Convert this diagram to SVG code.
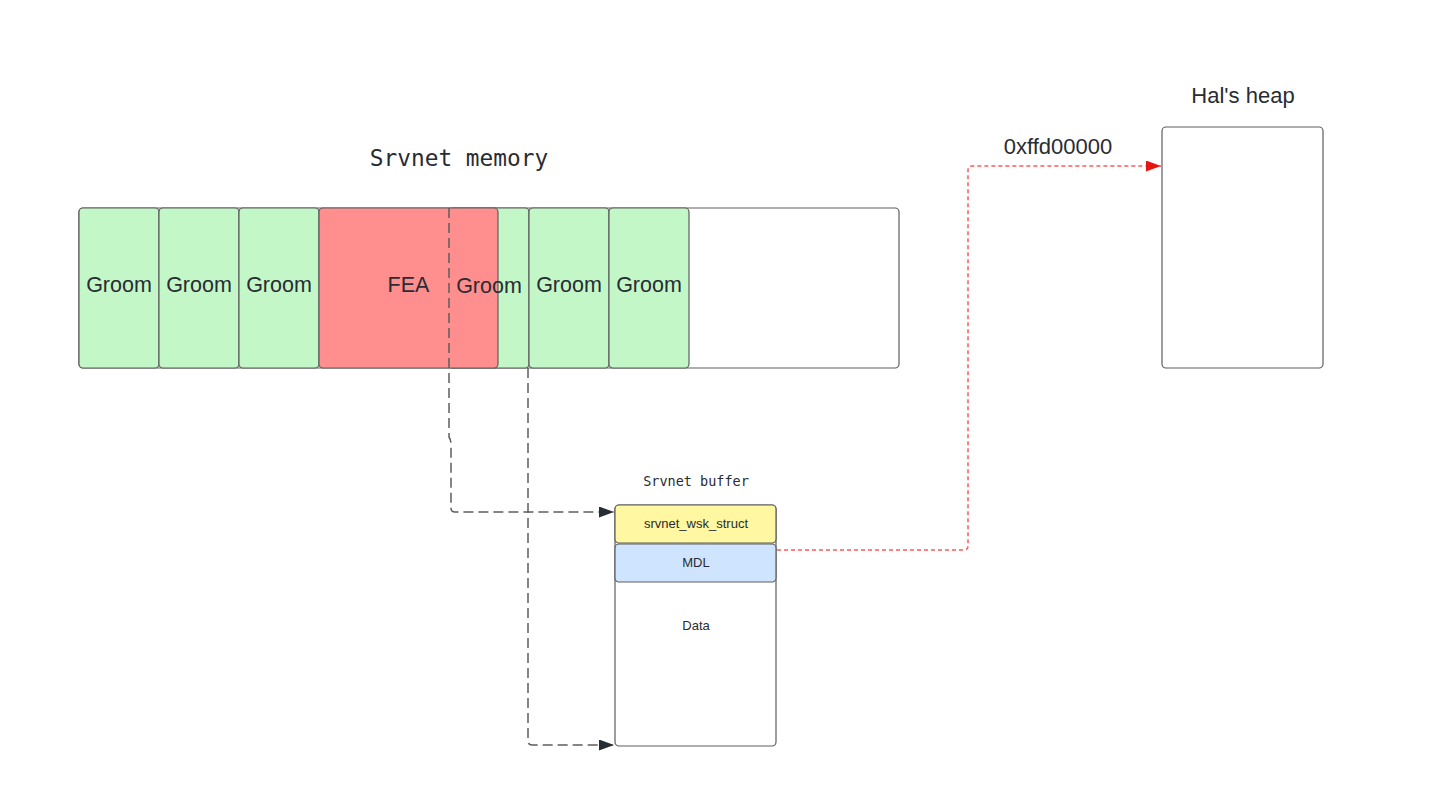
<svg xmlns="http://www.w3.org/2000/svg" width="1440" height="806" viewBox="0 0 1440 806">
<defs>
<style>
.box{stroke:#5e5e5e;stroke-width:1.2}
.g{fill:#c3f7c8}
.r{fill:#ff8f8f}
.w{fill:#ffffff}
.y{fill:#fff7a1}
.b{fill:#cfe4ff}
.lbl{font-family:"Liberation Sans",Arial,sans-serif;fill:#282c33;text-anchor:middle}
.big{font-size:21.5px}
.sm{font-size:13px}
.mono{font-family:"DejaVu Sans Mono","Liberation Mono",monospace;fill:#282c33;text-anchor:middle}
.gd{fill:none;stroke:#5e5e5e;stroke-width:1.5;stroke-dasharray:10 5}
.rd{fill:none;stroke:#ff5a5a;stroke-width:1.5;stroke-dasharray:4 3}
</style>
<marker id="ag" viewBox="0 0 15 11" refX="15" refY="5.5" markerWidth="15" markerHeight="11" markerUnits="userSpaceOnUse" orient="auto">
<path d="M0,0 L15,5.5 L0,11 Z" fill="#282c33"/>
</marker>
<marker id="ar" viewBox="0 0 15 11" refX="15" refY="5.5" markerWidth="15" markerHeight="11" markerUnits="userSpaceOnUse" orient="auto">
<path d="M0,0 L15,5.5 L0,11 Z" fill="#e81313"/>
</marker>
</defs>
<rect width="1440" height="806" fill="#ffffff"/>

<g id="srvnet-memory">
<text class="mono" x="459" y="166" font-size="22.8">Srvnet memory</text>
<rect class="box w" x="79" y="208" width="820" height="160" rx="4"/>
</g>
<g id="groom1"><rect class="box g" x="79" y="208" width="80" height="160" rx="4"/><text class="lbl big" x="119" y="292">Groom</text></g>
<g id="groom2"><rect class="box g" x="159" y="208" width="80" height="160" rx="4"/><text class="lbl big" x="199" y="292">Groom</text></g>
<g id="groom3"><rect class="box g" x="239" y="208" width="80" height="160" rx="4"/><text class="lbl big" x="279" y="292">Groom</text></g>
<g id="groom4"><rect class="box g" x="449" y="208" width="80" height="160" rx="4"/></g>
<g id="fea"><rect class="box r" x="319" y="208" width="179" height="160" rx="4"/><text class="lbl big" x="408.5" y="292">FEA</text></g>
<g id="groom4-label"><text class="lbl big" x="489" y="293">Groom</text></g>
<g id="groom5"><rect class="box g" x="529" y="208" width="80" height="160" rx="4"/><text class="lbl big" x="569" y="292">Groom</text></g>
<g id="groom6"><rect class="box g" x="609" y="208" width="80" height="160" rx="4"/><text class="lbl big" x="649" y="292">Groom</text></g>

<g id="srvnet-buffer">
<text class="mono" x="696" y="486" font-size="13.5">Srvnet buffer</text>
<rect class="box w" x="615" y="505" width="161" height="241" rx="4"/>
<text class="lbl sm" x="696" y="630">Data</text>
</g>
<g id="wsk-struct"><rect class="box y" x="615" y="505" width="161" height="38" rx="4"/><text class="lbl sm" x="696" y="528">srvnet_wsk_struct</text></g>
<g id="mdl"><rect class="box b" x="615" y="544" width="161" height="38" rx="4"/><text class="lbl sm" x="696" y="567">MDL</text></g>

<g id="hals-heap">
<text class="lbl" x="1243" y="103" font-size="22">Hal's heap</text>
<rect class="box w" x="1162" y="127" width="161" height="241" rx="4"/>
</g>

<g id="connectors">
<path class="gd" d="M449,208 V437 Q451,440 451,444 V508 Q451,512 455,512 H614" marker-end="url(#ag)"/>
<path class="gd" d="M528,368 V741 Q528,745 532,745 H614" marker-end="url(#ag)"/>
<path class="rd" d="M777,550 H964 Q968,550 968,546 V170 Q968,166 972,166 H1161" marker-end="url(#ar)"/>
<text class="lbl" x="1058" y="154" font-size="22">0xffd00000</text>
</g>
</svg>
